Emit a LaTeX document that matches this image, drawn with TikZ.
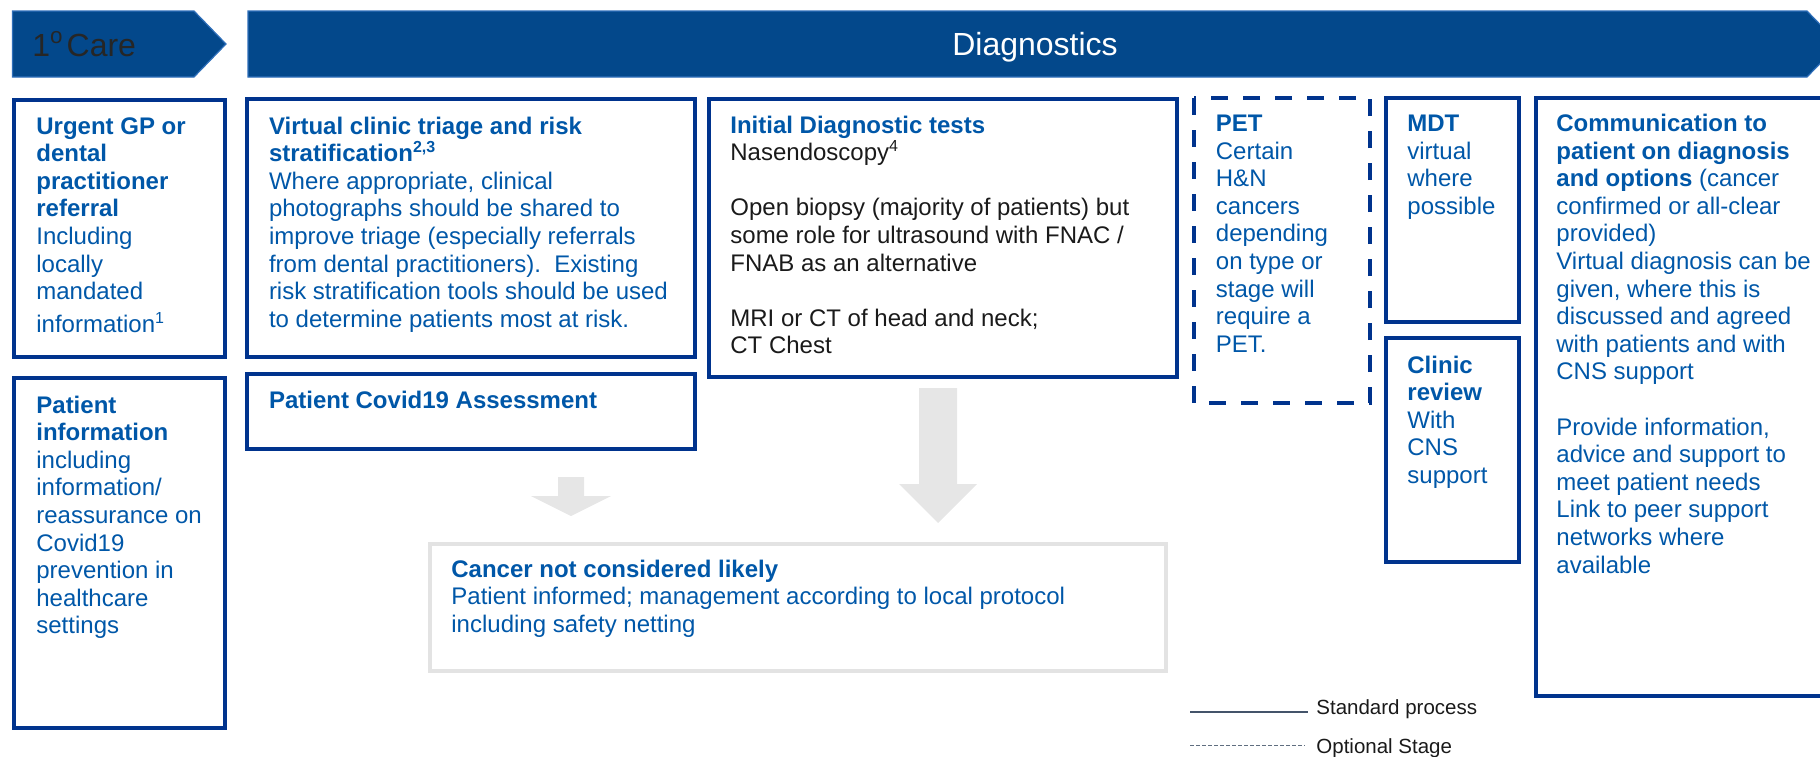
\documentclass[tikz,border=0pt]{standalone}
\usepackage{fontspec}
\setmainfont{Liberation Sans}
\definecolor{hdr}{HTML}{03488B}
\definecolor{hdredge}{HTML}{2F6FBA}
\definecolor{navy}{HTML}{00338D}
\definecolor{tblue}{HTML}{0057A8}
\definecolor{agray}{HTML}{E6E6E6}
\definecolor{bgray}{HTML}{E3E3E3}
\definecolor{legline}{HTML}{44546A}
\definecolor{txtdark}{HTML}{1A1A1A}
\definecolor{hdrtxt}{HTML}{262626}
\newcommand{\tbox}[1]{\vtop{\hsize=400pt\raggedright\parindent=0pt\fontsize{12pt}{13.8pt}\selectfont\leavevmode #1\par}}
\begin{document}
\begin{tikzpicture}[x=0.5pt,y=-0.5pt,
  boxst/.style={draw=navy,line width=2pt},
  dashbox/.style={draw=navy,line width=2pt,dash pattern=on 8.5pt off 7.5pt},
  softbox/.style={draw=bgray,line width=1.75pt},
  txt/.style={inner sep=0pt,anchor=base west,text=tblue},
  banner/.style={fill=hdr,draw=hdredge,line width=0.6pt},
  blockarrow/.style={fill=agray,draw=none},
  legtxt/.style={inner sep=0pt,anchor=base west,text=txtdark,font=\fontsize{10.25pt}{12pt}\selectfont}]
\useasboundingbox (0,0) rectangle (1820,756);
\clip (0,0) rectangle (1820,756);

% header banners
\path[banner] (12.5,11) -- (194,11) -- (226,44) -- (194,77) -- (12.5,77) -- cycle;
\path[banner] (248,11) -- (1807,11) -- (1839,44) -- (1807,77) -- (248,77) -- cycle;
\node[inner sep=0pt,anchor=base west,text=hdrtxt,font=\fontsize{16pt}{19pt}\selectfont] (care) at (32,56.5) {1\textsuperscript{o}\hspace{1.5pt}Care};
\node[inner sep=0pt,anchor=base,text=white,font=\fontsize{16pt}{19pt}\selectfont] (diag) at (1035,55) {Diagnostics};

% boxes
\draw[boxst] (13.5,100) rectangle (225,357);
\draw[boxst] (247,99) rectangle (694.5,357);
\draw[boxst] (247,374) rectangle (694.5,449);
\draw[boxst] (13.5,378) rectangle (225,728);
\draw[boxst] (708.5,99) rectangle (1176.7,377);
\draw[dashbox] (1194,98) rectangle (1370,403);
\draw[boxst] (1386,97.5) rectangle (1519,322);
\draw[boxst] (1386,338) rectangle (1519,562);
\draw[boxst] (1535.5,97.5) rectangle (1840,695.5);
\draw[softbox] (430,544) rectangle (1166,671);

% block arrows
\path[blockarrow] (558,477) -- (584,477) -- (584,496) -- (611,496) -- (571,516) -- (531,496) -- (558,496) -- cycle;
\path[blockarrow] (919,388) -- (957,388) -- (957,484) -- (977,484) -- (938,523) -- (899,484) -- (919,484) -- cycle;

% texts
\node[txt] (urgent) at (36,134) {\tbox{\textbf{Urgent GP or\\ dental\\ practitioner\\ referral}\\ Including\\ locally\\ mandated\\[2.7pt] information\textsuperscript{1}}};
\node[txt] (virtual) at (268.6,134) {\tbox{\textbf{Virtual clinic triage and risk\\ stratification\textsuperscript{2,3}}\\ Where appropriate, clinical\\ photographs should be shared to\\ improve triage (especially referrals\\ from dental practitioners).\ \ Existing\\ risk stratification tools should be used\\ to determine patients most at risk.}};
\node[txt] (covid) at (268.6,408) {\tbox{\textbf{Patient Covid19 Assessment}}};
\node[txt] (patinfo) at (36,413) {\tbox{\textbf{Patient\\ information}\\ including\\ information/\\ reassurance on\\ Covid19\\ prevention in\\ healthcare\\ settings}};
\node[txt,text=txtdark] (initial) at (730,133) {\tbox{\textcolor{tblue}{\textbf{Initial Diagnostic tests}}\\ Nasendoscopy\textsuperscript{4}\\[13.8pt] Open biopsy (majority of patients) but\\ some role for ultrasound with FNAC /\\ FNAB as an alternative\\[13.8pt] MRI or CT of head and neck;\\ CT Chest}};
\node[txt] (pet) at (1215.5,131.5) {\tbox{\textbf{PET}\\ Certain\\ H\&N\\ cancers\\ depending\\ on type or\\ stage will\\ require a\\ PET.}};
\node[txt] (mdt) at (1407,131.5) {\tbox{\textbf{MDT}\\ virtual\\ where\\ possible}};
\node[txt] (clinic) at (1407,373) {\tbox{\textbf{Clinic\\ review}\\ With\\ CNS\\ support}};
\node[txt] (comm) at (1556,131.5) {\tbox{\textbf{Communication to\\ patient on diagnosis\\ and options} (cancer\\ confirmed or all-clear\\ provided)\\ Virtual diagnosis can be\\ given, where this is\\ discussed and agreed\\ with patients and with\\ CNS support\\[13.8pt] Provide information,\\ advice and support to\\ meet patient needs\\ Link to peer support\\ networks where\\ available}};
\node[txt] (cancer) at (451,577) {\tbox{\textbf{Cancer not considered likely}\\ Patient informed; management according to local protocol\\ including safety netting}};

% legend
\coordinate (ls1) at (1190,712);
\coordinate (ls2) at (1308,712);
\coordinate (lo1) at (1190,745);
\coordinate (lo2) at (1305,745);
\draw[legline,line width=1pt] (ls1) -- (ls2);
\draw[legline!85,line width=0.5pt,dash pattern=on 2pt off 1pt] (lo1) -- (lo2);
\node[legtxt] (legstd) at (1316,714) {Standard process};
\node[legtxt] (legopt) at (1316,753) {Optional Stage};
\end{tikzpicture}
\end{document}
